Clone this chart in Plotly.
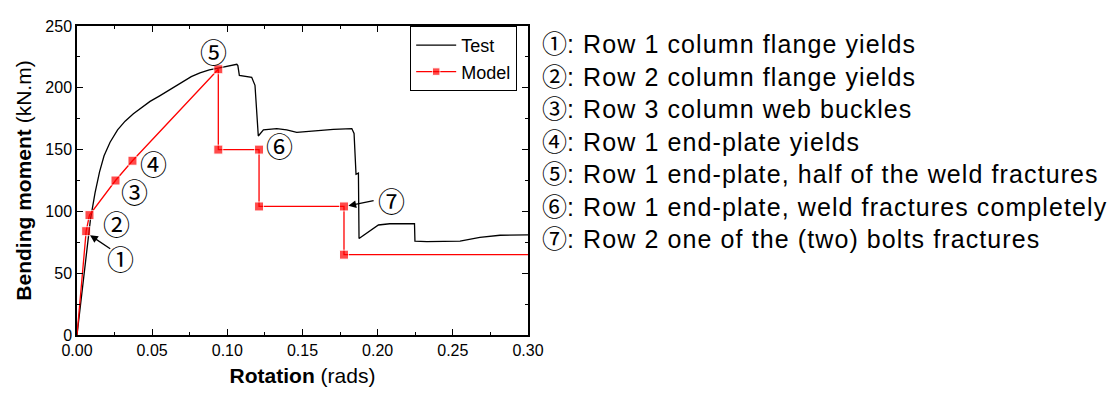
import plotly.graph_objects as go

# Test curve (rotation in rads, moment in kN.m)
test_rot = [0, 0.003, 0.006, 0.009, 0.012, 0.015, 0.018, 0.022, 0.027, 0.032, 0.0375, 0.043,
            0.0486, 0.055, 0.0597, 0.065, 0.0707, 0.076, 0.0818, 0.088, 0.094, 0.100, 0.104,
            0.1063, 0.107, 0.108, 0.1162, 0.1184, 0.1206, 0.124, 0.1329, 0.1395, 0.1462, 0.155,
            0.1705, 0.1828, 0.1843, 0.1856, 0.1872, 0.1876, 0.2005, 0.208, 0.2245, 0.2248,
            0.2327, 0.2548, 0.268, 0.2814, 0.30]
test_mom = [0, 33, 66, 94, 115, 132, 145, 156, 166, 173, 179, 184,
            189, 193.5, 197, 201.5, 205.5, 209, 212, 214.5, 216, 217.5, 218.5,
            219, 218, 210, 208.5, 202, 161, 166, 167, 166, 164, 165,
            166.4, 167, 163, 130, 131, 78, 89, 90, 90, 76,
            75.6, 76, 79, 80.7, 81]

# Model
model_rot = [0, 0.0061, 0.0083, 0.0256, 0.0369, 0.094, 0.094, 0.1211, 0.1211, 0.1776, 0.1776, 0.30]
model_mom = [0, 84, 97, 125, 141, 215, 150, 150, 104, 104, 65, 65]
model_marker = [0, 1, 1, 1, 1, 1, 1, 1, 1, 1, 1, 0]

# Event labels
label_text = ["①", "②", "③", "④", "⑤", "⑥", "⑦"]
label_rot = [0.0291, 0.0262, 0.0385, 0.0510, 0.0907, 0.135, 0.2094]
label_mom = [62, 90, 116.5, 138.5, 229, 153, 109]

legend_lines = [
    "①: Row 1 column flange yields",
    "②: Row 2 column flange yields",
    "③: Row 3 column web buckles",
    "④: Row 1 end-plate yields",
    "⑤: Row 1 end-plate, half of the weld fractures",
    "⑥: Row 1 end-plate, weld fractures completely",
    "⑦: Row 2 one of the (two) bolts fractures",
]

FONT = "Liberation Sans"
CIRC = "Noto Sans CJK JP"

fig = go.Figure()
fig.add_trace(go.Scatter(x=test_rot, y=test_mom, mode="lines", name="Test",
                         line=dict(color="black", width=1.3)))
fig.add_trace(go.Scatter(x=model_rot, y=model_mom, mode="lines+markers", name="Model",
                         line=dict(color="#ff0000", width=1.3),
                         marker=dict(symbol="square", color="#ff0000",
                                     size=[9 * m for m in model_marker])))

for t, xr, ym in zip(label_text, label_rot, label_mom):
    fig.add_annotation(x=xr, y=ym, text=t, showarrow=False,
                       font=dict(family=CIRC, size=27, color="black"))

# arrows for ① and ⑦
fig.add_annotation(x=0.0087, y=80.7, ax=0.0231, ay=69, xref="x", yref="y", axref="x", ayref="y",
                   text="", showarrow=True, arrowhead=2, arrowsize=1.2, arrowwidth=1.3, arrowcolor="black")
fig.add_annotation(x=0.1805, y=104.5, ax=0.1983, ay=109, xref="x", yref="y", axref="x", ayref="y",
                   text="", showarrow=True, arrowhead=2, arrowsize=1.2, arrowwidth=1.3, arrowcolor="black")

# right-hand descriptions as one multi-line block (plot area in page px: left 77, top 18, w 451, h 323)
lines_html = []
for line in legend_lines:
    circ, rest = line[0], line[1:]
    lines_html.append(f"<span style='font-family:{CIRC}'>{circ}</span>"
                      f"<span style='letter-spacing:1.1px'>{rest}</span>")
block_top_px = 14
fig.add_annotation(xref="paper", yref="paper", x=(540 - 77) / 451, y=1 - (block_top_px - 18) / 323,
                   xanchor="left", yanchor="top", align="left", showarrow=False,
                   text="<br>".join(lines_html),
                   font=dict(family=FONT, size=25, color="black"))

axis_common = dict(showline=True, linecolor="black", linewidth=1.5, mirror="allticks",
                   ticks="inside", ticklen=6, tickwidth=1.2, tickcolor="black",
                   showgrid=False, zeroline=False,
                   tickfont=dict(family=FONT, size=16, color="black"))

fig.update_xaxes(range=[0, 0.30], tickvals=[0, 0.05, 0.10, 0.15, 0.20, 0.25, 0.30],
                 ticktext=["0.00", "0.05", "0.10", "0.15", "0.20", "0.25", "0.30"],
                 minor=dict(dtick=0.025, ticks="inside", ticklen=3, tickcolor="black", tickwidth=1.2),
                 title=dict(text="<b>Rotation</b> (rads)", font=dict(family=FONT, size=21, color="black"),
                            standoff=10),
                 **axis_common)
fig.update_yaxes(range=[0, 250], tickvals=[0, 50, 100, 150, 200, 250],
                 minor=dict(dtick=25, ticks="inside", ticklen=3, tickcolor="black", tickwidth=1.2),
                 title=dict(text="<b>Bending moment</b> (kN.m)", font=dict(family=FONT, size=21, color="black"),
                            standoff=8),
                 **axis_common)

# page has an 8px body margin, so the figure is offset by 8px
fig.update_layout(
    width=1110, height=386,
    margin=dict(l=69, r=590, t=10, b=53),
    plot_bgcolor="white", paper_bgcolor="white",
    font=dict(family=FONT, size=16, color="black"),
    legend=dict(x=0.976, y=1.0, xanchor="right", yanchor="top",
                bordercolor="black", borderwidth=1, bgcolor="white",
                font=dict(family=FONT, size=18, color="black"),
                tracegroupgap=0, itemwidth=40),
)

fig.write_html("out.html")
